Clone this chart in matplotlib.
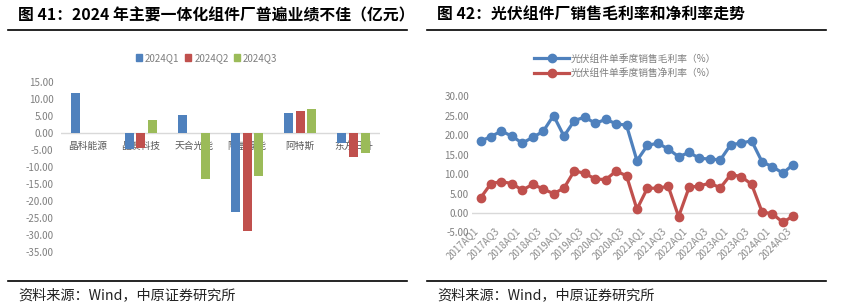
import numpy as np
import matplotlib
matplotlib.use('Agg')
import matplotlib.pyplot as plt
from matplotlib.lines import Line2D
from matplotlib.patches import Patch

plt.rcParams['font.family'] = ['Noto Sans CJK SC', 'DejaVu Sans']

# left chart data (亿元)
companies = ['晶科能源', '晶澳科技', '天合光能', '隆基绿能', '阿特斯', '东方日升']
quarters = ['2024Q1', '2024Q2', '2024Q3']
q1 = [11.8, -4.7, 5.1, -23.4, 5.7, -2.9]
q2 = [0.0, -4.6, 0.0, -28.9, 6.5, -7.0]
q3 = [0.0, 3.7, -13.5, -12.6, 7.1, -6.0]

# right chart data (%)
gross_margin = [18.5, 19.7, 21.1, 19.8, 18.0, 19.5, 21.0, 25.1, 19.8, 23.8,
                24.7, 23.1, 24.1, 23.0, 22.6, 13.5, 17.4, 18.0, 16.5, 14.5,
                15.6, 14.1, 13.9, 13.7, 17.6, 18.0, 18.6, 13.2, 11.9, 10.3, 12.5]
net_margin = [3.9, 7.6, 8.1, 7.6, 5.9, 7.4, 6.2, 5.0, 6.4, 10.9,
              10.2, 8.8, 8.6, 10.8, 9.6, 1.0, 6.4, 6.4, 6.9, -0.9,
              6.6, 7.0, 7.7, 6.5, 9.9, 9.4, 7.4, 0.3, -0.2, -2.4, -0.7]
tick_labels = ['2017AQ1', '2017AQ3', '2018AQ1', '2018AQ3', '2019AQ1', '2019AQ3',
               '2020AQ1', '2020AQ3', '2021AQ1', '2021AQ3', '2022AQ1', '2022AQ3',
               '2023AQ1', '2023AQ3', '2024AQ1', '2024AQ3']

BLUE = '#4F81BD'
RED = '#C0504D'
GREEN = '#9BBB59'
W, H = 850, 308


def fx(x):
    return x / W


def fy(y):
    return 1 - y / H


fig = plt.figure(figsize=(8.5, 3.08), dpi=100)

# titles, rules and source notes
for x0, x1, xt, title in [(8, 407, 18, '图 41：2024 年主要一体化组件厂普遍业绩不佳（亿元）'),
                          (427, 826, 437, '图 42：光伏组件厂销售毛利率和净利率走势')]:
    fig.text(fx(xt), fy(15), title, fontsize=11.4, fontweight='bold', va='center', ha='left')
    fig.add_artist(Line2D([fx(x0), fx(x1)], [fy(30), fy(30)], color='black', lw=1.2,
                          transform=fig.transFigure))
    fig.add_artist(Line2D([fx(x0), fx(x1)], [fy(281), fy(281)], color='black', lw=1.2,
                          transform=fig.transFigure))
    fig.text(fx(xt), fy(295), '资料来源：Wind，中原证券研究所', fontsize=10.2, va='center',
             ha='left', color='#222222')

# left: bar chart
ax1 = fig.add_axes([fx(61), fy(251.7), 319 / W, 170 / H])
x = np.arange(len(companies))
for off, vals, col, lab in [(-0.22, q1, BLUE, quarters[0]), (0, q2, RED, quarters[1]),
                            (0.22, q3, GREEN, quarters[2])]:
    ax1.bar(x + off, vals, width=0.17, color=col, label=lab, zorder=3)
ax1.axhline(0, color='#d9d9d9', lw=1, zorder=2)
for i, name in enumerate(companies):
    ax1.annotate(name, (i, 0), xytext=(0, -9.5), textcoords='offset points',
                 ha='center', va='center', fontsize=7, color='#595959', zorder=2)
ax1.set_xlim(-0.5, len(companies) - 0.5)
ax1.set_ylim(-35, 15)
ax1.set_yticks(np.arange(-35, 16, 5))
ax1.set_yticklabels(['%.2f' % v for v in np.arange(-35, 16, 5)])
ax1.tick_params(axis='y', length=0, pad=5.5, labelsize=7, labelcolor='#7f7f7f')
ax1.set_xticks([])
for s in ax1.spines.values():
    s.set_visible(False)
handles = [Patch(color=c) for c in (BLUE, RED, GREEN)]
fig.legend(handles, quarters, loc='center', bbox_to_anchor=(fx(207), fy(58)), ncol=3,
           frameon=False, fontsize=7, handlelength=0.6, handleheight=0.6,
           handletextpad=0.3, columnspacing=0.6, labelcolor='#7f7f7f')

# right: line chart
ax2 = fig.add_axes([fx(471.7), fy(232.5), 326.3 / W, 136 / H])
t = np.arange(len(gross_margin))
ax2.axhline(0, color='#d9d9d9', lw=1, zorder=1)
l1, = ax2.plot(t, gross_margin, color=BLUE, lw=2.3, marker='o', ms=6,
               label='光伏组件单季度销售毛利率（%）', zorder=3)
l2, = ax2.plot(t, net_margin, color=RED, lw=2.3, marker='o', ms=6,
               label='光伏组件单季度销售净利率（%）', zorder=3)
ax2.set_xlim(-0.85, len(t) - 0.55)
ax2.set_ylim(-5, 30)
ax2.set_yticks(np.arange(-5, 31, 5))
ax2.set_yticklabels(['%.2f' % v for v in np.arange(-5, 31, 5)])
ax2.tick_params(axis='y', length=0, pad=2, labelsize=7, labelcolor='#7f7f7f')
ax2.set_xticks(t[::2])
ax2.set_xticklabels(tick_labels, rotation=45, ha='right', va='top')
ax2.tick_params(axis='x', length=0, pad=-5, labelsize=7, labelcolor='#8c8c8c')
for s in ax2.spines.values():
    s.set_visible(False)
fig.legend([l1, l2], [l1.get_label(), l2.get_label()], loc='center',
           bbox_to_anchor=(fx(625), fy(66)), ncol=1, frameon=False, fontsize=7,
           handlelength=3.6, handletextpad=0.1, labelspacing=0.5, labelcolor='#7f7f7f')

fig.savefig('out.png', dpi=100)
